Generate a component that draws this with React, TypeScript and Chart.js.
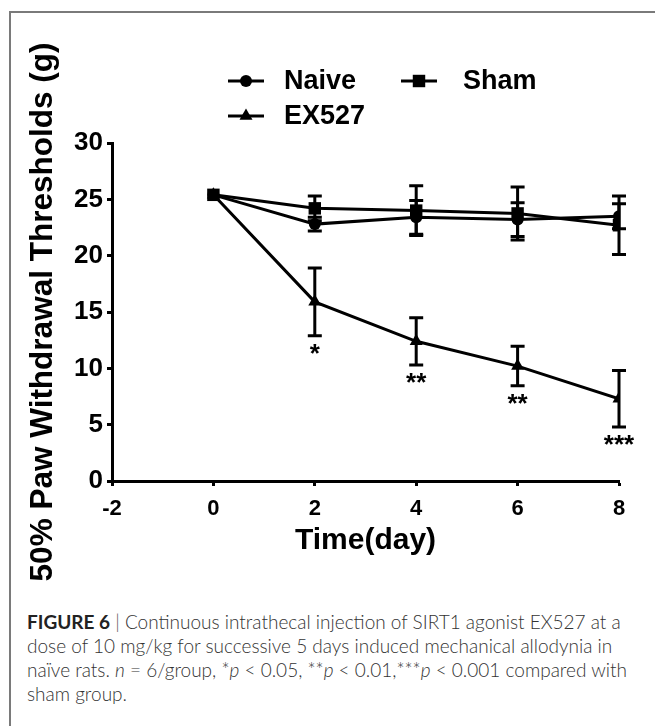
import React, { useEffect, useRef } from "react";
import { Chart, registerables } from "chart.js";

Chart.register(...registerables);

// ---- data ----
const days = [0, 2, 4, 6, 8];
const naiveMean = [25.4, 22.8, 23.4, 23.2, 23.5];
const naiveErr = [0, 0.6, 1.5, 1.5, 1.1];
const shamMean = [25.4, 24.2, 24.0, 23.75, 22.7];
const shamErr = [0, 1.1, 2.2, 2.35, 2.6];
const exMean = [25.4, 15.9, 12.4, 10.2, 7.3];
const exErr = [0, 3.0, 2.1, 1.75, 2.5];
const exSig = ["", "*", "**", "**", "***"];
const seriesNames = ["Naive", "Sham", "EX527"];
const xTitle = "Time(day)";
const yTitle = "50% Paw Withdrawal Thresholds (g)";

const FONT = '"Liberation Sans", Arial, Helvetica, sans-serif';

const toPoints = (vals: number[]) => days.map((d, i) => ({ x: d, y: vals[i] }));

function drawMarker(ctx: CanvasRenderingContext2D, style: string, x: number, y: number, r: number) {
  ctx.beginPath();
  if (style === "circle") {
    ctx.arc(x, y, r, 0, Math.PI * 2);
  } else if (style === "rect") {
    const s = Math.SQRT1_2 * r;
    ctx.rect(x - s, y - s, 2 * s, 2 * s);
  } else {
    ctx.moveTo(x, y - r);
    ctx.lineTo(x + r * Math.sin((2 * Math.PI) / 3), y - r * Math.cos((2 * Math.PI) / 3));
    ctx.lineTo(x + r * Math.sin((4 * Math.PI) / 3), y - r * Math.cos((4 * Math.PI) / 3));
    ctx.closePath();
  }
  ctx.fill();
}

const errorBarPlugin = {
  id: "errorBars",
  afterDatasetsDraw(chart: any) {
    const { ctx } = chart;
    const xs = chart.scales.x;
    const ys = chart.scales.y;
    ctx.save();
    ctx.strokeStyle = "#000";
    ctx.lineWidth = 3;
    ctx.lineCap = "butt";
    chart.data.datasets.forEach((ds: any) => {
      ds.data.forEach((pt: any, i: number) => {
        const e = ds.errors[i];
        if (!e) return;
        const px = xs.getPixelForValue(pt.x);
        const top = ys.getPixelForValue(pt.y + e);
        const bot = ys.getPixelForValue(pt.y - e);
        ctx.beginPath();
        ctx.moveTo(px, top);
        ctx.lineTo(px, bot);
        ctx.moveTo(px - 7, top);
        ctx.lineTo(px + 7, top);
        ctx.moveTo(px - 7, bot);
        ctx.lineTo(px + 7, bot);
        ctx.stroke();
        const sig = ds.sig ? ds.sig[i] : "";
        if (sig) {
          ctx.fillStyle = "#000";
          ctx.font = `bold 26px ${FONT}`;
          ctx.textAlign = "center";
          ctx.textBaseline = "alphabetic";
          ctx.fillText(sig, px, bot + 11 + 15);
        }
      });
    });
    ctx.restore();
  },
};

const legendPlugin = {
  id: "customLegend",
  afterDraw(chart: any) {
    const { ctx } = chart;
    const items = [
      { ds: 1, x: 228, y: 81, tx: 56 },
      { ds: 0, x: 401, y: 81, tx: 62 },
      { ds: 2, x: 228, y: 116, tx: 56 },
    ];
    ctx.save();
    items.forEach((it) => {
      const ds = chart.data.datasets[it.ds];
      ctx.strokeStyle = "#000";
      ctx.fillStyle = "#000";
      ctx.lineWidth = 3;
      ctx.beginPath();
      ctx.moveTo(it.x, it.y);
      ctx.lineTo(it.x + 36, it.y);
      ctx.stroke();
      drawMarker(ctx, ds.pointStyle, it.x + 18, it.y, ds.pointRadius);
      ctx.font = `bold 27px ${FONT}`;
      ctx.textAlign = "left";
      ctx.textBaseline = "middle";
      ctx.fillText(ds.label, it.x + it.tx, it.y + 1);
    });
    ctx.restore();
  },
};

export default function App() {
  const ref = useRef<HTMLCanvasElement | null>(null);

  useEffect(() => {
    if (!ref.current) return;
    const common = {
      borderColor: "#000",
      backgroundColor: "#000",
      pointBackgroundColor: "#000",
      pointBorderWidth: 0,
      borderWidth: 3,
      tension: 0,
    };
    const chart = new Chart(ref.current, {
      type: "line",
      data: {
        datasets: [
          { ...common, label: seriesNames[1], data: toPoints(shamMean), errors: shamErr, pointStyle: "rect", pointRadius: 8.8 } as any,
          { ...common, label: seriesNames[0], data: toPoints(naiveMean), errors: naiveErr, pointStyle: "circle", pointRadius: 6 } as any,
          { ...common, label: seriesNames[2], data: toPoints(exMean), errors: exErr, sig: exSig, pointStyle: "triangle", pointRadius: 7.5 } as any,
        ],
      },
      options: {
        responsive: false,
        maintainAspectRatio: false,
        animation: false,
        events: [],
        layout: { padding: { top: 143, right: 36, left: 0, bottom: 0 } },
        plugins: { legend: { display: false }, tooltip: { enabled: false } },
        scales: {
          x: {
            type: "linear",
            min: -2,
            max: 8,
            afterFit: (s: any) => {
              s.height = 119;
            },
            ticks: { stepSize: 2, color: "#000", font: { family: FONT, size: 22, weight: "bold" }, padding: 10 },
            grid: { display: true, drawOnChartArea: false, drawTicks: true, tickLength: 5, tickWidth: 3, tickColor: "#000" },
            border: { display: true, color: "#000", width: 3 },
            title: {
              display: true,
              text: xTitle,
              color: "#000",
              font: { family: FONT, size: 30, weight: "bold" },
              padding: { top: 0, bottom: 41.5 },
            },
          },
          y: {
            type: "linear",
            min: 0,
            max: 30,
            afterFit: (s: any) => {
              s.width = 112;
            },
            ticks: { stepSize: 5, color: "#000", font: { family: FONT, size: 26, weight: "bold" }, padding: 4 },
            grid: { display: true, drawOnChartArea: false, drawTicks: true, tickLength: 5, tickWidth: 3, tickColor: "#000" },
            border: { display: true, color: "#000", width: 3 },
            title: {
              display: true,
              text: yTitle,
              color: "#000",
              font: { family: FONT, size: 31.5, weight: "bold" },
              padding: { top: 24, bottom: 0 },
            },
          },
        },
      } as any,
      plugins: [errorBarPlugin, legendPlugin],
    });
    return () => chart.destroy();
  }, []);

  return (
    <div style={{ position: "absolute", left: 0, top: 0, width: 655, height: 726, background: "#fff", overflow: "hidden" }}>
      <div
        style={{
          position: "absolute",
          left: 9,
          top: 11,
          width: 660,
          height: 730,
          borderTop: "2px solid #7a7a7a",
          borderLeft: "2px solid #7a7a7a",
        }}
      />
      <canvas ref={ref} width={655} height={600} style={{ position: "absolute", left: 0, top: 0, width: 655, height: 600 }} />
      <div
        style={{
          position: "absolute",
          left: 27,
          top: 610,
          fontFamily: 'Lato, "Liberation Sans", Arial, sans-serif',
          fontWeight: 300,
          fontSize: 19,
          lineHeight: "24px",
          color: "#333",
          whiteSpace: "nowrap",
        }}
      >
        <b style={{ fontWeight: 700, color: "#222" }}>FIGURE 6</b>
        <span style={{ color: "#555" }}> | </span>Continuous intrathecal injection of SIRT1 agonist EX527 at a
        <br />
        dose of 10 mg/kg for successive 5 days induced mechanical allodynia in
        <br />
        naïve rats. <i>n</i> = 6/group, *<i>p</i> &lt; 0.05, **<i>p</i> &lt; 0.01,***<i>p</i> &lt; 0.001 compared with
        <br />
        sham group.
      </div>
    </div>
  );
}
